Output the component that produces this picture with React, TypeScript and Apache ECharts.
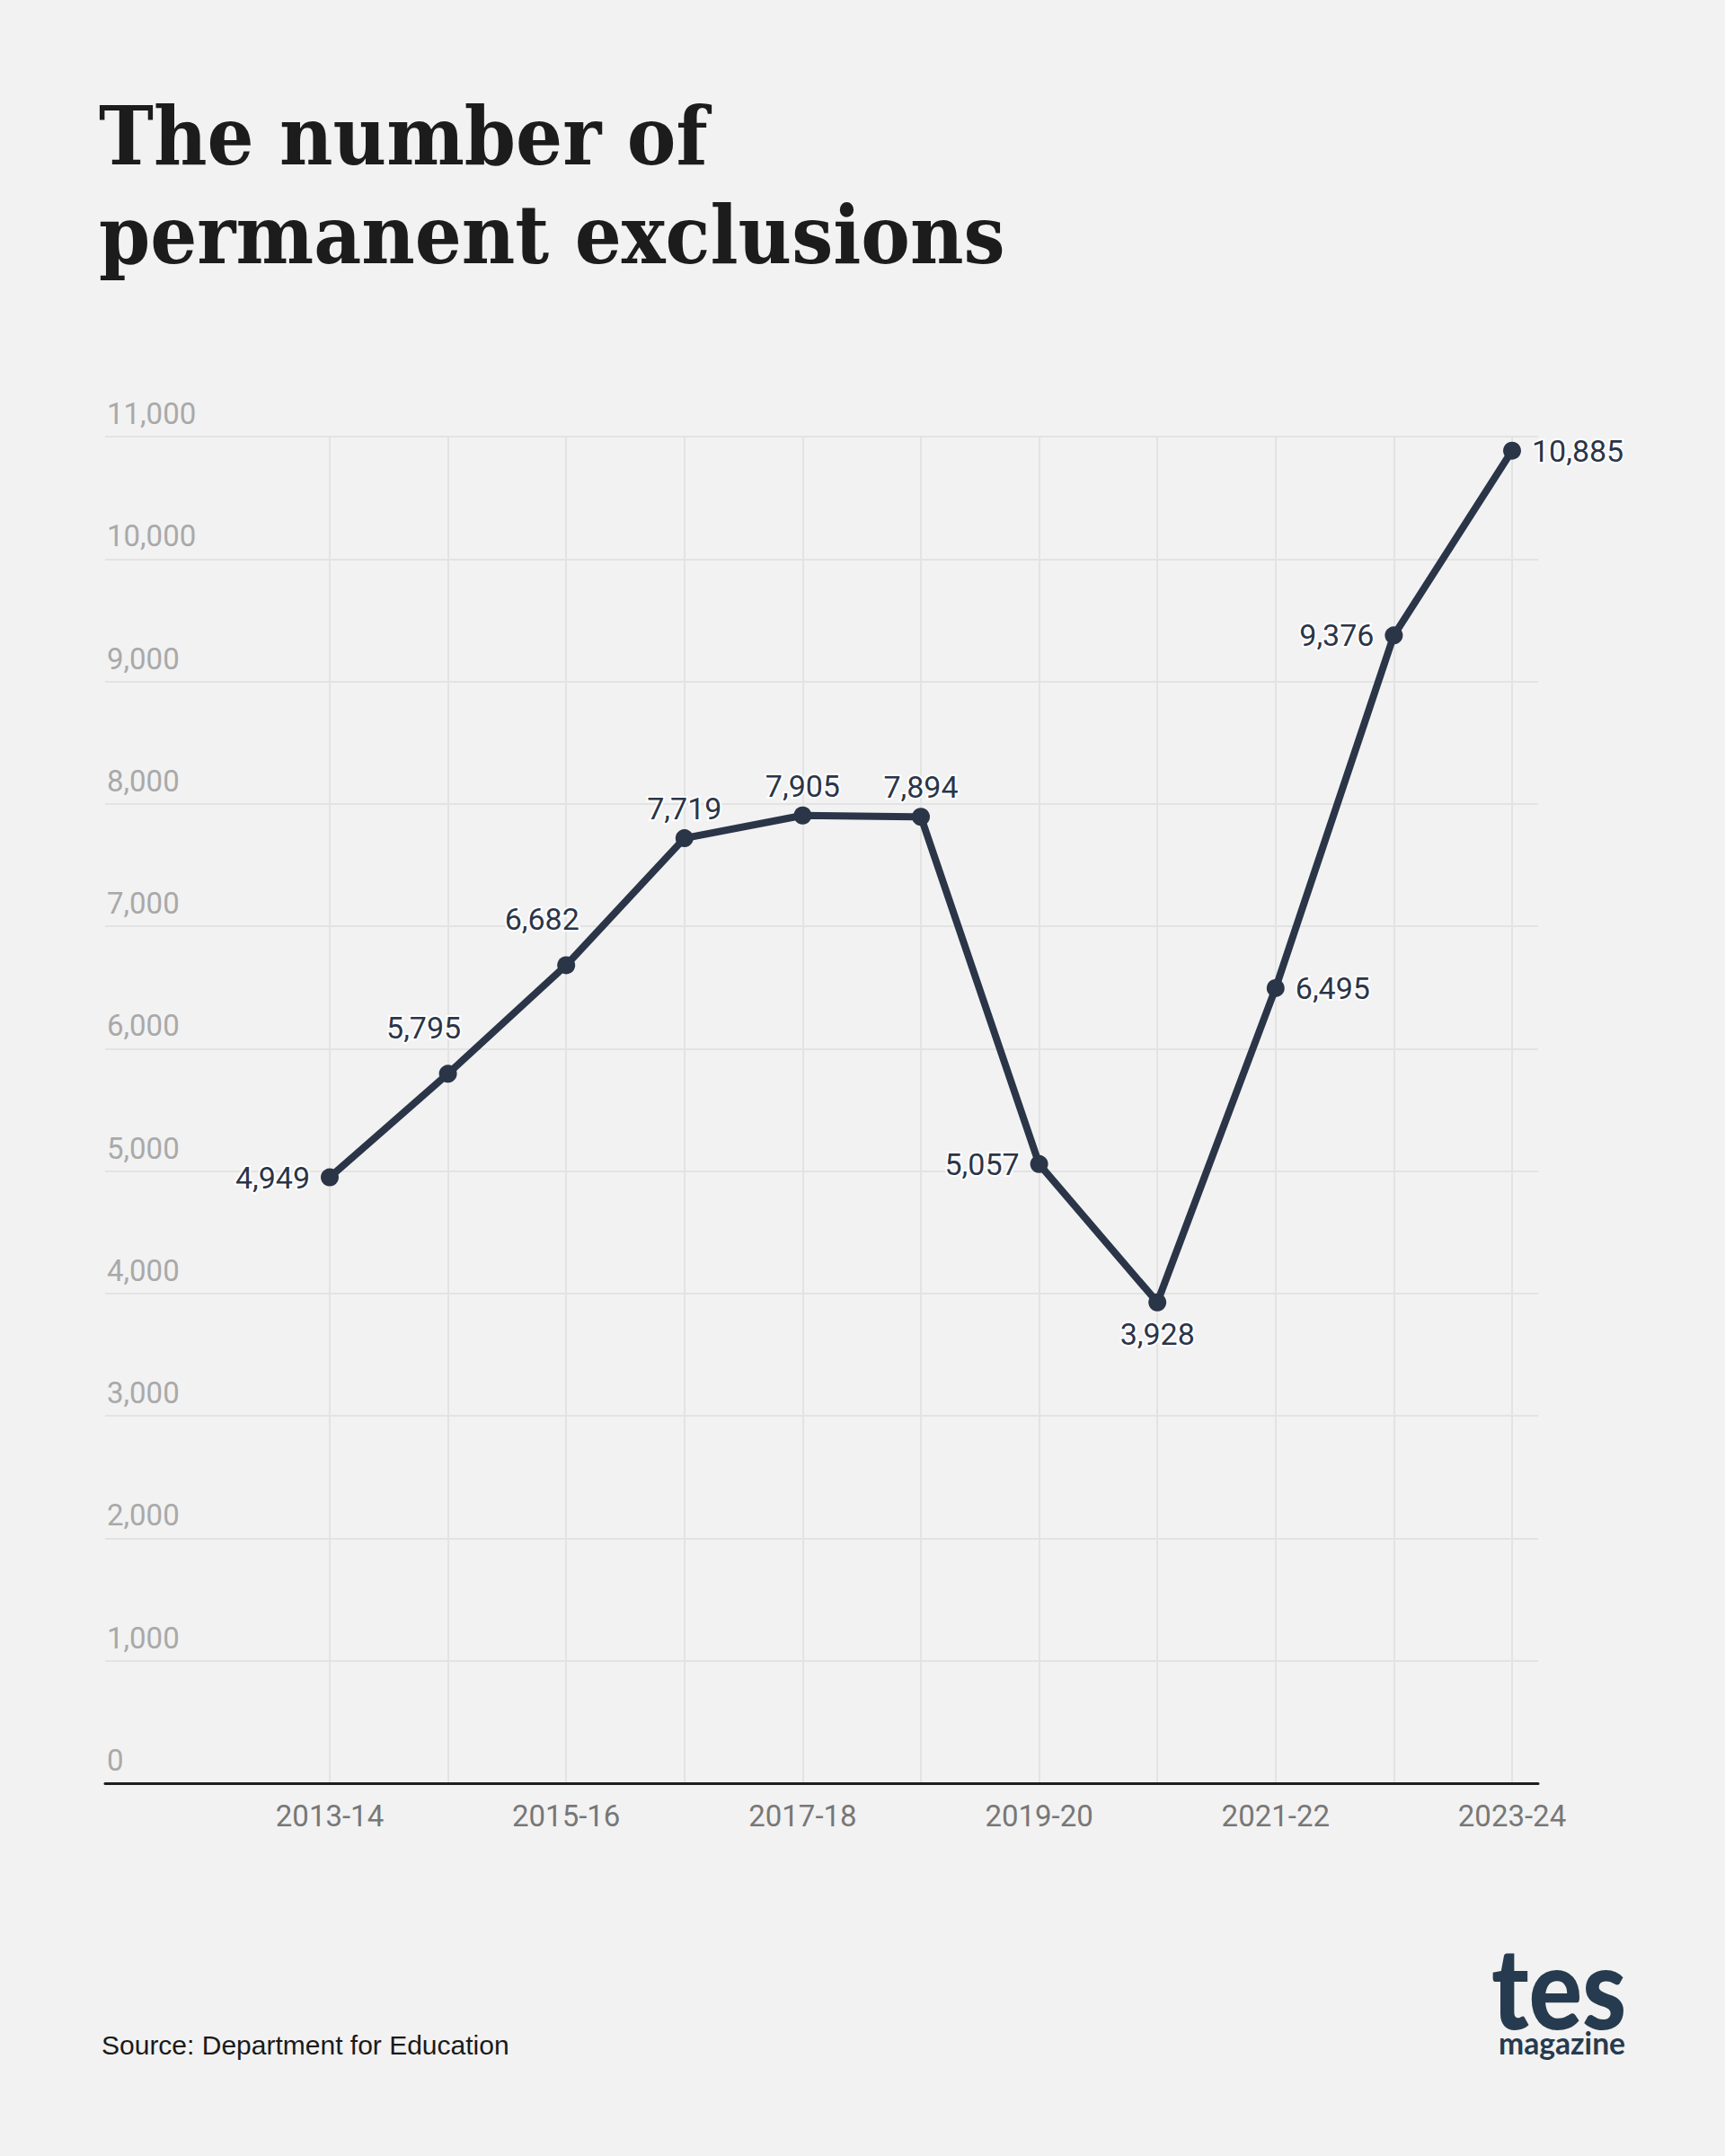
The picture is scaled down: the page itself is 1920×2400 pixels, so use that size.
import React, { useEffect, useRef } from "react";
import * as echarts from "echarts";

const years = [
  "2013-14", "2014-15", "2015-16", "2016-17", "2017-18", "2018-19",
  "2019-20", "2020-21", "2021-22", "2022-23", "2023-24",
];
const exclusions = [4949, 5795, 6682, 7719, 7905, 7894, 5057, 3928, 6495, 9376, 10885];
const labelSides = ["left", "top", "top", "top", "top", "top", "left", "bottom", "right", "left", "right"];
const yTicks = { min: 0, max: 11000, interval: 1000 };

const titleLines = ["The number of", "permanent exclusions"];
const sourceText = "Source: Department for Education";

const BG = "#f2f2f2";
const INK = "#2b3548";

export default function App() {
  const ref = useRef<HTMLDivElement>(null);
  useEffect(() => {
    document.body.style.margin = "0";
    document.body.style.background = BG;
    if (!ref.current) return;
    const chart = echarts.init(ref.current, null, { renderer: "svg" });
    const gridTop = 486;
    const gridBottom = 2400 - 1985;
    const fmt = (v: number) => v.toLocaleString("en-US");
    const data = exclusions.map((v, i) => {
      const side = labelSides[i];
      const label: any = { position: side, distance: side === "top" ? 6 : 12 };
      if (i === 1 || i === 2) label.offset = [-27, -18];
      if (side === "bottom") label.distance = 8;
      return { value: v, label };
    });
    const titleStyle = {
      fontFamily: "DejaVu Serif",
      fontWeight: "bold",
      fontSize: 90,
      fill: "#1c1c1c",
      verticalAlign: "middle",
      align: "left",
    };
    chart.setOption({
      animation: false,
      backgroundColor: BG,
      textStyle: { fontFamily: "Roboto" },
      grid: [
        { left: 117, right: 1920 - 1712, top: gridTop, bottom: gridBottom },
        { left: 367, right: 1920 - 1683, top: gridTop, bottom: gridBottom },
      ],
      xAxis: [
        {
          gridIndex: 0,
          type: "category",
          data: years,
          axisLine: { show: true, lineStyle: { color: "#1e1e1e", width: 3 } },
          axisTick: { show: false },
          axisLabel: { show: false },
          splitLine: { show: false },
        },
        {
          gridIndex: 1,
          type: "category",
          data: years,
          boundaryGap: false,
          axisLine: { show: false },
          axisTick: { show: false },
          axisLabel: {
            interval: 1,
            fontSize: 33,
            color: "#777777",
            fontFamily: "Roboto",
            margin: 20,
          },
          splitLine: { show: true, interval: 0, lineStyle: { color: "#e3e3e3", width: 2 } },
        },
      ],
      yAxis: [
        {
          gridIndex: 0,
          type: "value",
          min: yTicks.min,
          max: yTicks.max,
          interval: yTicks.interval,
          axisLine: { show: false },
          axisTick: { show: false },
          axisLabel: {
            inside: true,
            margin: 2,
            align: "left",
            verticalAlign: "bottom",
            padding: [0, 0, 9, 0],
            fontSize: 33,
            color: "#a9a9a9",
            fontFamily: "Roboto",
            formatter: (v: number) => fmt(v),
          },
          splitLine: { show: true, lineStyle: { color: "#e3e3e3", width: 2 } },
        },
        {
          gridIndex: 1,
          type: "value",
          min: yTicks.min,
          max: yTicks.max,
          interval: yTicks.interval,
          show: false,
          splitLine: { show: false },
        },
      ],
      series: [
        {
          type: "line",
          xAxisIndex: 1,
          yAxisIndex: 1,
          data,
          symbol: "circle",
          symbolSize: 20,
          lineStyle: { color: INK, width: 8 },
          itemStyle: { color: INK },
          label: {
            show: true,
            fontSize: 34,
            color: INK,
            fontFamily: "Roboto",
            textBorderColor: "#ffffff",
            textBorderWidth: 4,
            formatter: (p: any) => fmt(p.value),
          },
          z: 5,
        },
      ],
      graphic: [
        { type: "text", x: 110, y: 151, scaleX: 0.91, style: { ...titleStyle, text: titleLines[0] } },
        { type: "text", x: 110, y: 261, scaleX: 0.91, style: { ...titleStyle, text: titleLines[1] } },
        {
          type: "text",
          x: 113,
          y: 2276,
          style: {
            text: sourceText,
            fontFamily: "Liberation Sans",
            fontSize: 30,
            fill: "#1a1a1a",
            verticalAlign: "middle",
            align: "left",
          },
        },
        {
          type: "text",
          x: 1660,
          y: 2210,
          scaleX: 0.89,
          style: {
            text: "tes",
            fontFamily: "Lato",
            fontWeight: 900,
            fontSize: 125,
            fill: "#263b4f",
            verticalAlign: "middle",
            align: "left",
          },
        },
        {
          type: "text",
          x: 1668,
          y: 2274,
          scaleX: 0.99,
          style: {
            text: "magazine",
            fontFamily: "Lato",
            fontWeight: "bold",
            fontSize: 34,
            fill: "#263b4f",
            verticalAlign: "middle",
            align: "left",
          },
        },
      ],
    });
    return () => chart.dispose();
  }, []);
  return <div ref={ref} style={{ width: 1920, height: 2400 }} />;
}
